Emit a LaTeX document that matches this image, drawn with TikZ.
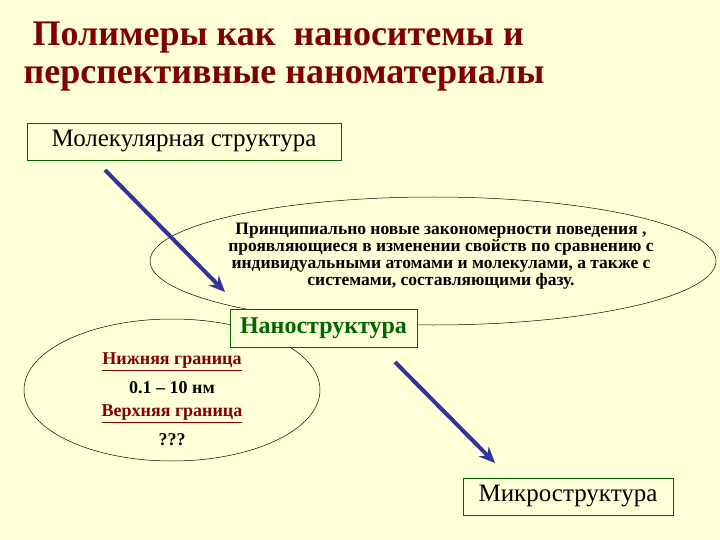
\documentclass[tikz,border=0pt]{standalone}
\usepackage{fontspec}
\setmainfont{Liberation Serif}
\usetikzlibrary{arrows.meta}
\definecolor{bg}{HTML}{FFFFD8}
\definecolor{title}{HTML}{800000}
\definecolor{arrowblue}{HTML}{333399}
\definecolor{nanogreen}{HTML}{006600}
\definecolor{linkred}{HTML}{800000}
\begin{document}
\begin{tikzpicture}[x=1pt,y=-1pt,
  box/.style={draw=nanogreen,line width=0.8pt,fill=bg,inner sep=0pt,font=\fontsize{25}{28}\selectfont},
  oval/.style={draw=black,line width=0.5pt},
  bigarrow/.style={draw=arrowblue,line width=4pt,-{Stealth[length=16pt,width=14pt]}},
  lab/.style={font=\bfseries\fontsize{18}{20}\selectfont}]
\fill[bg] (0,0) rectangle (720,540);
\useasboundingbox (0,0) rectangle (720,540);
\node[text=title,font=\bfseries\fontsize{36}{38}\selectfont,align=left,anchor=north west] (t) at (20,18)
  {\ Полимеры как\ \ наноситемы и\\перспективные наноматериалы};
\draw[oval] (433,261) ellipse (283 and 64);
\draw[oval] (172,390) ellipse (148 and 71);
\node[box,minimum width=314,minimum height=37] (mol) at (184,141.5) {Молекулярная структура};
\node[box,minimum width=187,minimum height=38,text=nanogreen,font=\bfseries\fontsize{24}{26}\selectfont] (nano) at (323.5,328) {Наноструктура};
\node[box,minimum width=210,minimum height=37] (micro) at (568,496.5) {Микроструктура};
\node[lab,align=center,font=\bfseries\fontsize{17.5}{17}\selectfont] (txt) at (441,256)
  {Принципиально новые закономерности поведения ,\\проявляющиеся в изменении свойств по сравнению с\\индивидуальными атомами и молекулами, а также с\\системами, составляющими фазу.};
\node[lab,text=linkred] (low) at (172,362) {\underline{Нижняя граница}};
\node[lab] (range) at (172,388) {0.1 – 10 нм};
\node[lab,text=linkred] (up) at (172,414) {\underline{Верхняя граница}};
\node[lab] (q) at (172,440) {???};
\coordinate (a1s) at (105,170);
\coordinate (a1e) at (225,292);
\coordinate (a2s) at (395,362);
\coordinate (a2e) at (495,463);
\draw[bigarrow] (a1s) -- (a1e);
\draw[bigarrow] (a2s) -- (a2e);
\end{tikzpicture}
\end{document}
